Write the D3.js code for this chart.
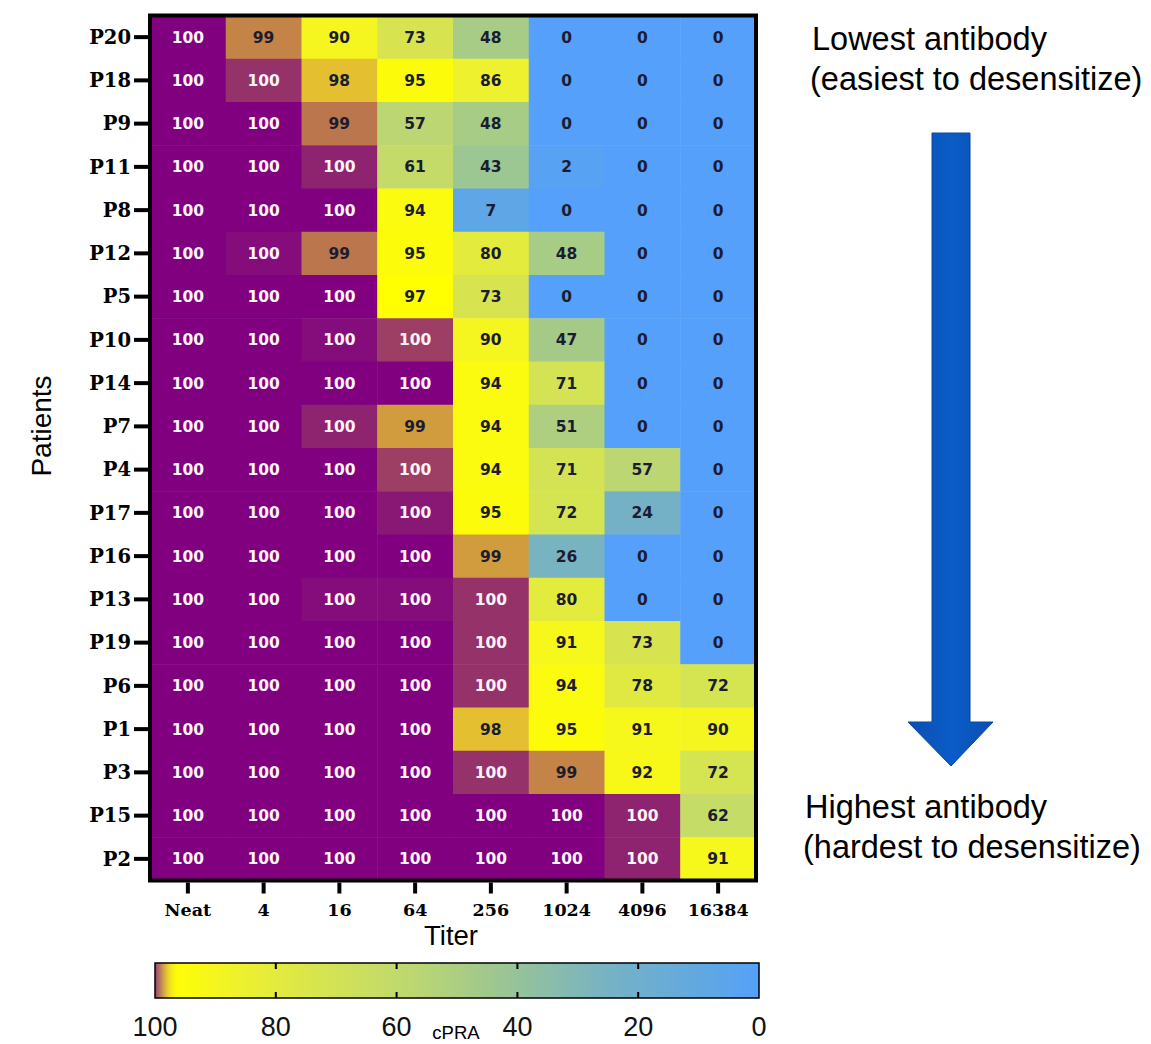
<!DOCTYPE html>
<html><head><meta charset="utf-8">
<script src="https://cdn.jsdelivr.net/npm/d3@7"></script>
<style>body{margin:0;background:#fff}svg{display:block}</style>
</head><body>
<script>
const patients = ["P20","P18","P9","P11","P8","P12","P5","P10","P14","P7","P4","P17","P16","P13","P19","P6","P1","P3","P15","P2"];
const titers = ["Neat","4","16","64","256","1024","4096","16384"];
// cPRA values per patient (rows) across titers (columns); 99.x = shown as 100 but lighter
const cpra = [
 [100, 99, 90, 73, 48, 0, 0, 0],
 [100, 99.6, 98, 95, 86, 0, 0, 0],
 [100, 100, 99.1, 57, 48, 0, 0, 0],
 [100, 100, 99.7, 61, 43, 2, 0, 0],
 [100, 100, 100, 94, 7, 0, 0, 0],
 [100, 99.9, 99.1, 95, 80, 48, 0, 0],
 [100, 100, 100, 97, 73, 0, 0, 0],
 [100, 100, 99.9, 99.5, 90, 47, 0, 0],
 [100, 100, 100, 100, 94, 71, 0, 0],
 [100, 100, 99.7, 98.6, 94, 51, 0, 0],
 [100, 100, 100, 99.5, 94, 71, 57, 0],
 [100, 100, 100, 99.8, 95, 72, 24, 0],
 [100, 100, 100, 100, 98.6, 26, 0, 0],
 [100, 100, 99.9, 99.9, 99.6, 80, 0, 0],
 [100, 100, 100, 100, 99.6, 91, 73, 0],
 [100, 100, 100, 100, 99.6, 94, 78, 72],
 [100, 100, 100, 100, 98, 95, 91, 90],
 [100, 100, 100, 100, 99.6, 99, 92, 72],
 [100, 100, 100, 100, 100, 100, 99.7, 62],
 [100, 100, 100, 100, 100, 100, 99.7, 91]
];
const colorStops = [0, 7, 25, 45, 60, 75, 85, 92, 97.2, 98, 99, 99.7, 100];
const colorRange = ["#55a0fa","#5ea6e6","#76b2c4","#a0c88c","#c2da6c","#dae64a","#ecf030","#f8f818","#ffff00","#e4c030","#c48448","#8e2470","#800080"];
const colorTicks = [100, 80, 60, 40, 20, 0];

const W = 1151, H = 1044;
const svg = d3.select("body").append("svg").attr("width", W).attr("height", H);
const color = d3.scaleLinear().domain(colorStops).range(colorRange).clamp(true);

const x = d3.scaleBand().domain(titers).range([150, 756]).padding(0);
const y = d3.scaleBand().domain(patients).range([15.5, 880.5]).padding(0);

const cells = [];
patients.forEach((p, i) => titers.forEach((t, j) => cells.push({p, t, v: cpra[i][j]})));

svg.append("g").selectAll("rect").data(cells).join("rect")
  .attr("x", d => x(d.t)).attr("y", d => y(d.p))
  .attr("width", x.bandwidth() + 0.5).attr("height", y.bandwidth() + 0.5)
  .attr("fill", d => color(d.v));

svg.append("g").selectAll("text").data(cells).join("text")
  .attr("x", d => x(d.t) + x.bandwidth() / 2)
  .attr("y", d => y(d.p) + y.bandwidth() / 2)
  .attr("dy", "0.36em").attr("text-anchor", "middle")
  .attr("font-family", "DejaVu Sans").attr("font-weight", "bold").attr("font-size", 15.5)
  .attr("fill", d => Math.round(d.v) >= 100 ? "#fff4fa" : "#1c1c30")
  .text(d => Math.round(d.v));

// frame
svg.append("rect").attr("x", 150).attr("y", 15.5).attr("width", 606).attr("height", 865)
  .attr("fill", "none").attr("stroke", "#000").attr("stroke-width", 4);

// axes
const xAxis = svg.append("g").attr("transform", "translate(0,882.5)")
  .call(d3.axisBottom(x).tickSize(11).tickPadding(10));
xAxis.select(".domain").remove();
xAxis.selectAll("line").attr("stroke", "#000").attr("stroke-width", 4);
xAxis.selectAll("text").attr("font-family", "DejaVu Serif").attr("font-weight", "bold")
  .attr("font-size", 17.5).attr("fill", "#000");

const yAxis = svg.append("g").attr("transform", "translate(148,0)")
  .call(d3.axisLeft(y).tickSize(14).tickPadding(3));
yAxis.select(".domain").remove();
yAxis.selectAll("line").attr("stroke", "#000").attr("stroke-width", 4);
yAxis.selectAll("text").attr("font-family", "DejaVu Serif").attr("font-weight", "bold")
  .attr("font-size", 19.5).attr("fill", "#000").attr("dy", "0.35em");

svg.append("text").attr("x", 451).attr("y", 945).attr("text-anchor", "middle")
  .attr("font-family", "Liberation Sans").attr("font-size", 27.5).text("Titer");
svg.append("text").attr("transform", "translate(51,426) rotate(-90)").attr("text-anchor", "middle")
  .attr("font-family", "Liberation Sans").attr("font-size", 28).text("Patients");

// colorbar
const cb = d3.scaleLinear().domain([100, 0]).range([155, 759]);
const defs = svg.append("defs");
const grad = defs.append("linearGradient").attr("id", "cbgrad")
  .attr("gradientUnits", "userSpaceOnUse")
  .attr("x1", cb(100)).attr("x2", cb(0)).attr("y1", 0).attr("y2", 0);
d3.range(100, -0.1, -0.25).forEach(v => {
  grad.append("stop").attr("offset", (100 - v) + "%").attr("stop-color", color(v));
});
const blur = defs.append("filter").attr("id", "cbblur").attr("filterUnits", "userSpaceOnUse")
  .attr("x", 100).attr("y", 950).attr("width", 720).attr("height", 60);
blur.append("feGaussianBlur").attr("stdDeviation", "5 0");
defs.append("clipPath").attr("id", "cbclip").append("rect")
  .attr("x", cb(100)).attr("y", 963).attr("width", cb(0) - cb(100)).attr("height", 35);
svg.append("g").attr("clip-path", "url(#cbclip)").append("rect")
  .attr("x", cb(100) - 30).attr("y", 960).attr("width", cb(0) - cb(100) + 60).attr("height", 41)
  .attr("fill", "url(#cbgrad)").attr("filter", "url(#cbblur)");
svg.append("rect").attr("x", cb(100)).attr("y", 963).attr("width", cb(0) - cb(100)).attr("height", 35)
  .attr("fill", "none").attr("stroke", "#000").attr("stroke-width", 1.5);
const cbTicks = svg.append("g");
colorTicks.filter(v => v > 0 && v < 100).forEach(v => {
  cbTicks.append("line").attr("x1", cb(v)).attr("x2", cb(v)).attr("y1", 963).attr("y2", 969)
    .attr("stroke", "#000").attr("stroke-width", 2);
  cbTicks.append("line").attr("x1", cb(v)).attr("x2", cb(v)).attr("y1", 992).attr("y2", 998)
    .attr("stroke", "#000").attr("stroke-width", 2);
});
svg.append("g").selectAll("text").data(colorTicks).join("text")
  .attr("x", d => cb(d)).attr("y", 1036).attr("text-anchor", "middle")
  .attr("font-family", "Liberation Sans").attr("font-size", 27).attr("fill", "#111")
  .text(d => d);
svg.append("text").attr("x", 456).attr("y", 1039).attr("text-anchor", "middle")
  .attr("font-family", "Liberation Sans").attr("font-size", 18.5).text("cPRA");

// annotation
const ann = svg.append("g").attr("font-family", "Liberation Sans").attr("font-size", 32.5).attr("fill", "#000");
ann.append("text").attr("x", 812).attr("y", 50).text("Lowest antibody");
ann.append("text").attr("x", 810).attr("y", 90).text("(easiest to desensitize)");
ann.append("text").attr("x", 805).attr("y", 818).text("Highest antibody");
ann.append("text").attr("x", 803).attr("y", 858).text("(hardest to desensitize)");

const arrowGrad = defs.append("linearGradient").attr("id", "argrad").attr("x1", "0%").attr("x2", "100%");
arrowGrad.append("stop").attr("offset", "0%").attr("stop-color", "#0a4fb0");
arrowGrad.append("stop").attr("offset", "50%").attr("stop-color", "#0b5cc8");
arrowGrad.append("stop").attr("offset", "100%").attr("stop-color", "#0a4fb0");
svg.append("path")
  .attr("d", "M932,133 L970,133 L970,722 L993,722 L951,766 L908,722 L932,722 Z")
  .attr("fill", "url(#argrad)").attr("stroke", "#0a48a0").attr("stroke-width", 1);
</script>
</body></html>
